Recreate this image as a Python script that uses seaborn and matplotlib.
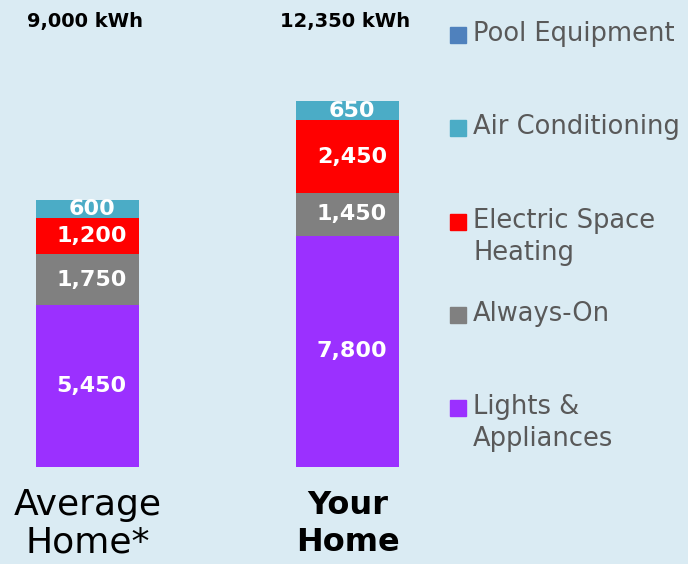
import numpy as np
import pandas as pd
import matplotlib
matplotlib.use("Agg")
import matplotlib.pyplot as plt
import seaborn as sns
from matplotlib.patches import Rectangle

homes = ["Average Home*", "Your Home"]
# bottom to top stacking order
segments = ["Lights & Appliances", "Always-On", "Electric Space Heating", "Air Conditioning", "Pool Equipment"]
lights = [5450, 7800]
always_on = [1750, 1450]
heating = [1200, 2450]
cooling = [600, 650]
pool = [0, 0]
totals = ["9,000 kWh", "12,350 kWh"]

colors = {"Lights & Appliances": "#9B30FF", "Always-On": "#808080",
          "Electric Space Heating": "#FF0000", "Air Conditioning": "#4BACC6",
          "Pool Equipment": "#4F81BD"}
bg = "#DAEBF3"

values = np.array([lights, always_on, heating, cooling, pool])
cum = values.cumsum(axis=0)

sns.set_style("white")
fig = plt.figure(figsize=(6.88, 5.64), dpi=100, facecolor=bg)
ax = fig.add_axes([0.0, 0.172, 0.6395, 0.7216])
ax.set_facecolor(bg)

# draw cumulative stacks from the top down so smaller ones overlay
for i in range(len(segments) - 1, -1, -1):
    df = pd.DataFrame({"home": homes, "kwh": cum[i]})
    sns.barplot(data=df, x="home", y="kwh", color=colors[segments[i]],
                width=0.396, saturation=1, ax=ax, linewidth=0)

ax.set_xlim(-0.338, 1.354)
ax.set_ylim(0, 13733)
ax.axis("off")

# segment value labels
for i in range(4):
    for j in range(len(homes)):
        v = values[i, j]
        mid = cum[i, j] - v / 2
        ax.text(j + 0.015, mid, f"{v:,}", ha="center", va="center",
                color="white", fontsize=16, fontweight="bold")

# totals above the chart
for j, t in enumerate(totals):
    fig.text((88 + 260 * j - 3) / 688, 1 - 22 / 564, t, ha="center", va="center",
             fontsize=14, fontweight="bold", color="black")

# category labels
fig.text(88 / 688, 1 - 524 / 564, "Average\nHome*", ha="center", va="center",
         fontsize=26, color="black", linespacing=1.12)
fig.text(348 / 688, 1 - 524 / 564, "Your\nHome", ha="center", va="center",
         fontsize=23, fontweight="bold", color="black", linespacing=1.25)

# legend, top to bottom
legend_items = [("Pool Equipment", 35), ("Air Conditioning", 128),
                ("Electric Space\nHeating", 222), ("Always-On", 315),
                ("Lights &\nAppliances", 408)]
legend_keys = ["Pool Equipment", "Air Conditioning", "Electric Space Heating",
               "Always-On", "Lights & Appliances"]
for (label, y), key in zip(legend_items, legend_keys):
    fig.patches.append(Rectangle((450 / 688, 1 - (y + 8) / 564), 16 / 688, 16 / 564,
                                 transform=fig.transFigure, color=colors[key]))
    fig.text(473 / 688, 1 - (y - 14) / 564, label, ha="left", va="top",
             fontsize=18.5, color="#595959", linespacing=1.32)

fig.savefig("out.png", dpi=100, facecolor=bg)
